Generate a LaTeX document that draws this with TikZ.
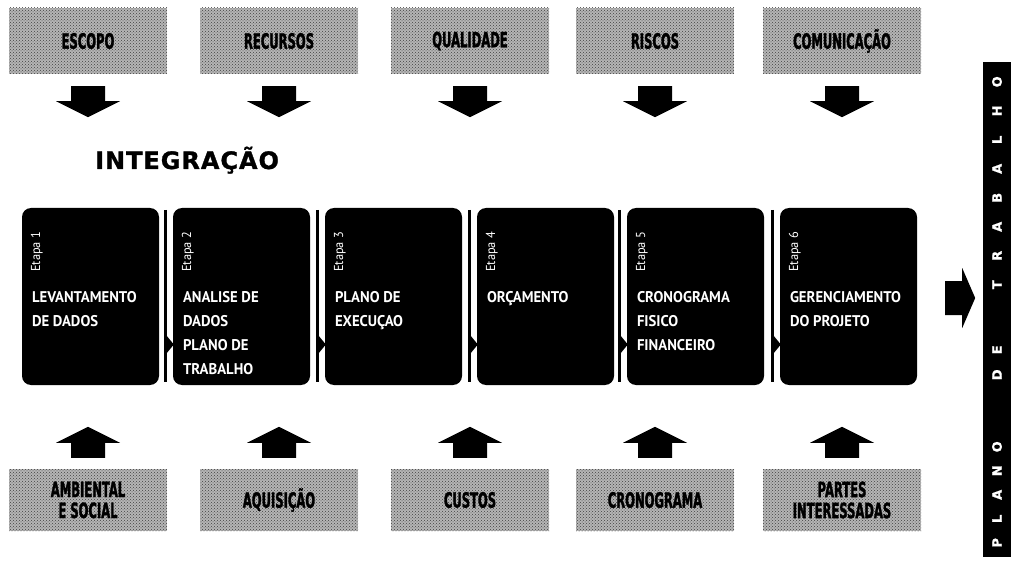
\documentclass[tikz,border=0pt]{standalone}
\usepackage{fontspec}
\usetikzlibrary{calc,patterns}
\newfontfamily\stepfont[FakeStretch=0.95]{PT Sans}
\newfontfamily\tagfont[FakeStretch=0.55,FakeBold=1.5]{DejaVu Sans}
\newfontfamily\titlefont[LetterSpace=4,FakeBold=1.2]{DejaVu Sans}
\newfontfamily\barfont[FakeBold=1]{DejaVu Sans}
\newcommand\arrdown[1]{\fill[black] ($(#1.south)+(-17,12)$) -- ++(34,0) -- ++(0,15) -- ++(15,0) -- ++(-32,16) -- ++(-32,-16) -- ++(15,0) -- cycle;}
\newcommand\arrup[1]{\fill[black] ($(#1.north)+(-17,-11)$) -- ++(34,0) -- ++(0,-15) -- ++(15,0) -- ++(-32,-16) -- ++(-32,16) -- ++(15,0) -- cycle;}
\newcommand\linkbar[1]{\draw[line width=3pt] ($(#1.north west)+(-7,2)$) -- ($(#1.south west)+(-7,-3)$);
  \fill[black] ($(#1.west)+(-8,37)$) -- ++(9,11) -- ++(-9,11) -- cycle;}
\begin{document}
\begin{tikzpicture}[x=1pt,y=-1pt,
  texbox/.style={rectangle, minimum width=158pt, inner sep=0pt,
    preaction={fill=gray!58}, pattern=crosshatch dots, pattern color=black!75,
    font=\tagfont\bfseries\fontsize{21}{21}\selectfont, align=center, text=black},
  topbox/.style={texbox, minimum height=66pt},
  botbox/.style={texbox, minimum height=62pt},
  stepbox/.style={rectangle, fill=black, rounded corners=9pt, minimum width=137pt, minimum height=177pt, inner sep=0pt},
  steptext/.style={anchor=north west, inner sep=0pt, align=left, text=white,
    font=\stepfont\bfseries\fontsize{15.5}{24}\selectfont},
  etapa/.style={rotate=90, inner sep=0pt, text=white, font=\stepfont\fontsize{13}{13}\selectfont}
]
\useasboundingbox (0,0) rectangle (1013,567);

% top inputs
\node[topbox] (t1) at (88,41) {ESCOPO};
\node[topbox] (t2) at (279,41) {RECURSOS};
\node[topbox] (t3) at (470,41) {QUALIDADE};
\node[topbox] (t4) at (655,41) {RISCOS};
\node[topbox] (t5) at (842,41) {COMUNICAÇÃO};
\foreach \n in {t1,t2,t3,t4,t5} {\arrdown{\n}}

% title
\node[anchor=base west, inner sep=0pt, font=\titlefont\bfseries\fontsize{24}{24}\selectfont] (tit) at (95,169) {INTEGRAÇÃO};

% steps
\node[stepbox] (b1) at (90.5,296.5) {};
\node[stepbox] (b2) at (241.5,296.5) {};
\node[stepbox] (b3) at (393.5,296.5) {};
\node[stepbox] (b4) at (545.5,296.5) {};
\node[stepbox] (b5) at (695.5,296.5) {};
\node[stepbox] (b6) at (848.5,296.5) {};
\foreach \i in {1,...,6} {\node[etapa] (e\i) at ($(b\i.north west)+(15,44)$) {Etapa \i};}
\node[steptext] (l1) at ($(b1.north west)+(10,83)$) {LEVANTAMENTO\\DE DADOS};
\node[steptext] (l2) at ($(b2.north west)+(10,83)$) {ANALISE DE\\DADOS\\PLANO DE\\TRABALHO};
\node[steptext] (l3) at ($(b3.north west)+(10,83)$) {PLANO DE\\EXECUÇAO};
\node[steptext] (l4) at ($(b4.north west)+(10,83)$) {ORÇAMENTO};
\node[steptext] (l5) at ($(b5.north west)+(10,83)$) {CRONOGRAMA\\FISICO\\FINANCEIRO};
\node[steptext] (l6) at ($(b6.north west)+(10,83)$) {GERENCIAMENTO\\DO PROJETO};
\foreach \n in {b2,b3,b4,b5,b6} {\linkbar{\n}}

% bottom inputs
\node[botbox] (u1) at (88,500) {AMBIENTAL\\E SOCIAL};
\node[botbox] (u2) at (279,500) {AQUISIÇÃO};
\node[botbox] (u3) at (470,500) {CUSTOS};
\node[botbox] (u4) at (655,500) {CRONOGRAMA};
\node[botbox] (u5) at (842,500) {PARTES\\INTERESSADAS};
\foreach \n in {u1,u2,u3,u4,u5} {\arrup{\n}}

% output arrow
\fill[black] ($(b6.east)+(28,-15.5)$) -- ++(17,0) -- ++(0,-13) -- ++(13,30) -- ++(-13,30) -- ++(0,-13) -- ++(-17,0) -- cycle;

% side bar
\node[fill=black, minimum width=28pt, minimum height=495pt, inner sep=0pt] (bar) at (997,309.5) {};
\node[rotate=90, anchor=west, inner sep=0pt, text=white, font=\barfont\bfseries\fontsize{13}{13}\selectfont] (pt) at (997,555)
 {\makebox[24pt]{P}\makebox[24pt]{L}\makebox[24pt]{A}\makebox[24pt]{N}\makebox[24pt]{O}\hspace{47.5pt}\makebox[25pt]{D}\makebox[25pt]{E}\hspace{38pt}\makebox[29pt]{T}\makebox[29pt]{R}\makebox[29pt]{A}\makebox[29pt]{B}\makebox[29pt]{A}\makebox[29pt]{L}\makebox[29pt]{H}\makebox[29pt]{O}};
\end{tikzpicture}
\end{document}
